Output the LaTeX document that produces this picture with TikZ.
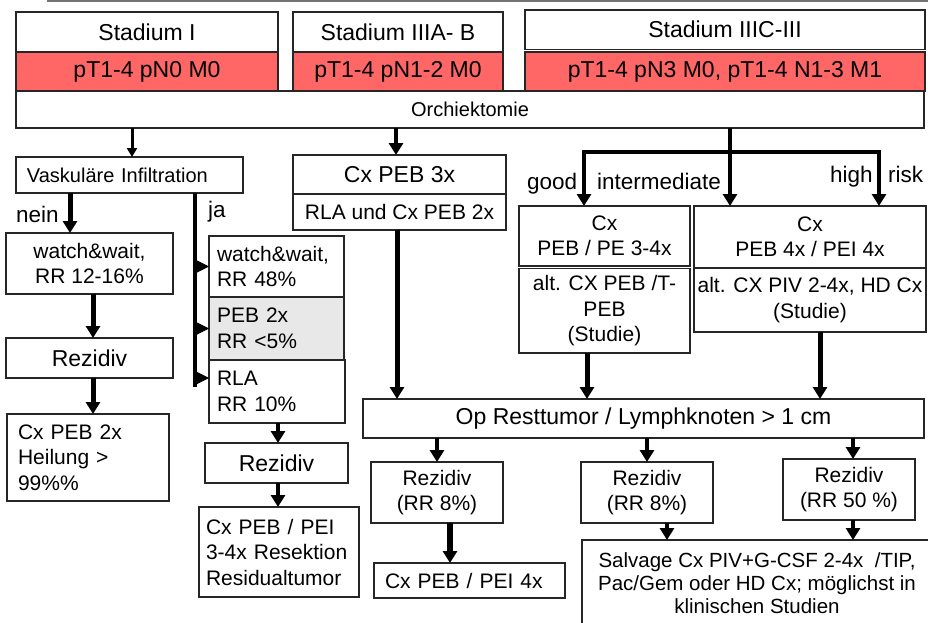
\documentclass[tikz,border=0pt]{standalone}
\usepackage{fontspec}
\setmainfont{Liberation Sans}
\usetikzlibrary{arrows.meta}
\definecolor{redfill}{RGB}{255,102,102}
\definecolor{stip}{RGB}{232,232,232}
\tikzset{
  box/.style={draw=black!85, line width=1.2pt, inner sep=0pt, outer sep=0pt, anchor=north west, align=center},
  fa/.style={font=\fontsize{20}{24}\selectfont},
  fb/.style={font=\fontsize{21}{25.5}\selectfont},
  fc/.style={font=\fontsize{23}{27}\selectfont},
  lft/.style={align=left},
  arr/.style={line width=4.5pt, -{Triangle[width=14pt,length=12pt]}},
  arrs/.style={line width=3pt, -{Triangle[width=10pt,length=9pt]}},
  jarr/.style={line width=1pt, -{Triangle[width=12pt,length=12pt]}},
  lbl/.style={inner sep=0pt, font=\fontsize{22.5}{27}\selectfont}
}
\newcommand\mybox[7]{\node[box,minimum width={(#4-#2)*1pt},minimum height={(#5-#3)*1pt},#6] (#1) at (#2,#3) {#7};}
\begin{document}
\begin{tikzpicture}[x=1pt,y=-1pt]
\useasboundingbox (0,0) rectangle (928,623);
\clip (0,0) rectangle (928,623);
\fill[white] (0,0) rectangle (928,623);
\draw[black!55, line width=1.8pt] (47,0.9) -- (928,0.9);
% stage boxes
\mybox{s1w}{16}{12}{278}{52}{fc}{Stadium I}
\mybox{s1r}{16}{52}{278}{91}{fc,fill=redfill}{pT1-4 pN0 M0}
\mybox{s2w}{293}{12}{503}{52}{fc}{Stadium IIIA- B}
\mybox{s2r}{293}{52}{503}{91}{fc,fill=redfill}{pT1-4 pN1-2 M0}
\mybox{s3w}{525}{10}{925}{49.5}{fc}{Stadium IIIC-III}
\mybox{s3r}{525}{52}{925}{91}{fc,fill=redfill}{pT1-4 pN3 M0, pT1-4 N1-3 M1}
\mybox{orch}{16}{91}{924}{128}{fa}{Orchiektomie}
% left branch
\mybox{vask}{16}{157}{243}{193}{fa,lft,inner xsep=11pt,text width=205pt}{Vaskuläre Infiltration}
\mybox{ww1}{6}{233}{173}{294}{fb}{watch\&wait,\\RR 12-16\%}
\mybox{rez1}{6}{338}{173}{378}{fc}{Rezidiv}
\mybox{heil}{7}{414}{169}{501}{fb,lft,inner xsep=11pt,text width=140pt}{Cx PEB 2x\\Heilung >\\99\%\%}
\mybox{ww2}{209}{236}{344}{297}{fb,lft,inner xsep=8pt,text width=119pt}{watch\&wait,\\RR 48\%}
\mybox{peb2}{209}{297}{344}{360}{fb,lft,inner xsep=8pt,text width=119pt,fill=stip}{PEB 2x\\RR <5\%}
\mybox{rla10}{209}{360}{345}{423}{fb,lft,inner xsep=8pt,text width=120pt}{RLA\\RR 10\%}
\mybox{rez2}{205}{443}{348}{483}{fc}{Rezidiv}
\mybox{cxpei}{199}{507}{359}{597}{fb,lft,inner xsep=7pt,text width=146pt}{Cx PEB / PEI\\3-4x Resektion\\Residualtumor}
% middle
\mybox{cxpeb3}{293}{155}{506}{194}{fc}{Cx PEB 3x}
\mybox{rla}{293}{194}{506}{230}{fb}{RLA und Cx PEB 2x}
% right
\mybox{goodtop}{519}{206}{690}{266}{fb}{Cx\\PEB / PE 3-4x}
\mybox{goodbot}{519}{268.5}{690}{353}{fb}{alt. CX PEB /T-\\PEB\\(Studie)}
\mybox{hightop}{694}{206}{926}{268}{fb}{Cx\\PEB 4x / PEI 4x}
\mybox{highbot}{694}{268}{926}{332}{fb}{alt. CX PIV 2-4x, HD Cx\\(Studie)}
\mybox{op}{363}{399}{924}{438}{fc}{Op Resttumor / Lymphknoten > 1 cm}
\mybox{r8a}{371}{462}{503}{523}{fb}{Rezidiv\\(RR 8\%)}
\mybox{cx4}{374}{563}{565}{598}{fb,lft,inner xsep=11pt,text width=169pt}{Cx PEB / PEI 4x}
\mybox{r8b}{581}{462}{713}{523}{fb}{Rezidiv\\(RR 8\%)}
\mybox{r50}{783}{459}{915}{520}{fb}{Rezidiv\\(RR 50 \%)}
\mybox{salv}{582}{540}{932}{626}{fb,font=\fontsize{20.5}{23}\selectfont}{Salvage Cx PIV+G-CSF 2-4x\ \ /TIP,\\Pac/Gem oder HD Cx; möglichst in\\klinischen Studien}
% labels
\node[lbl, anchor=base west] (nein) at (16,222) {nein};
\node[lbl, anchor=base west] (ja) at (208,217) {ja};
\node[lbl, anchor=base west] (good) at (527,189) {good};
\node[lbl, anchor=base west] (interm) at (597,189) {intermediate};
\node[lbl, anchor=base west] (high) at (830,182) {high};
\node[lbl, anchor=base west] (risk) at (888,182) {risk};
% x positions
\coordinate (c1) at (132,0);
\coordinate (c2) at (396,0);
\coordinate (c3) at (730,0);
\coordinate (jL) at (584,152);
\coordinate (jR) at (879,152);
\coordinate (c6) at (70,0);
\coordinate (c7) at (195,0);
\coordinate (jaend) at (195,387);
\coordinate (ja3) at (195,378);
\coordinate (c8) at (93,0);
\coordinate (c9) at (278,0);
\coordinate (c10) at (397,0);
\coordinate (c11) at (587,0);
\coordinate (c12) at (820,0);
\coordinate (c13) at (437,0);
\coordinate (c14) at (647,0);
\coordinate (c15) at (853,0);
\coordinate (c16) at (450,0);
\coordinate (c17) at (667,0);
% connectors
\draw[arrs] (orch.south -| c1) -- (vask.north -| c1);
\draw[arr] (orch.south -| c2) -- (cxpeb3.north -| c2);
\draw[arr, line width=4pt] (orch.south -| c3) -- (hightop.north -| c3);
\draw[arr, line width=4pt, line join=miter] (jR) -- (jL) -- (goodtop.north -| jL);
\draw[arr, line width=4pt, line join=miter] (jL) -- (jR) -- (hightop.north -| jR);
\draw[arr, line width=5pt] (vask.south -| c6) -- (ww1.north -| c6);
\draw[line width=4pt] (vask.south -| c7) -- (jaend);
\draw[jarr] (c7 |- ww2.west) -- (ww2.west);
\draw[jarr] (c7 |- peb2.west) -- (peb2.west);
\draw[jarr] (ja3) -- (rla10.west |- ja3);
\draw[arr, line width=5pt] (ww1.south -| c8) -- (rez1.north -| c8);
\draw[arr, line width=5pt] (rez1.south -| c8) -- (heil.north -| c8);
\draw[arr] (rla10.south -| c9) -- (rez2.north -| c9);
\draw[arr] (rez2.south -| c9) -- (cxpei.north -| c9);
\draw[arr, line width=5pt] (rla.south -| c10) -- (op.north -| c10);
\draw[arr, line width=5pt] (goodbot.south -| c11) -- (op.north -| c11);
\draw[arr, line width=5pt] (highbot.south -| c12) -- (op.north -| c12);
\draw[arr] (op.south -| c13) -- (r8a.north -| c13);
\draw[arr] (op.south -| c14) -- (r8b.north -| c14);
\draw[arr] (op.south -| c15) -- (r50.north -| c15);
\draw[arr, line width=6pt] (r8a.south -| c16) -- (cx4.north -| c16);
\draw[arr] (r8b.south -| c17) -- (salv.north -| c17);
\draw[arr] (r50.south -| c15) -- (salv.north -| c15);
\end{tikzpicture}
\end{document}
